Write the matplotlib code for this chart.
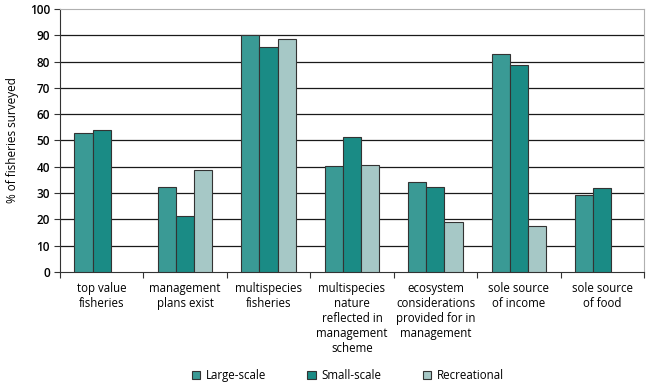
import matplotlib.pyplot as plt
import numpy as np

plt.rcParams['font.family'] = ['Open Sans', 'DejaVu Sans']

categories = ['top value\nfisheries', 'management\nplans exist', 'multispecies\nfisheries',
              'multispecies\nnature\nreflected in\nmanagement\nscheme',
              'ecosystem\nconsiderations\nprovided for in\nmanagement',
              'sole source\nof income', 'sole source\nof food']
series_names = ['Large-scale', 'Small-scale', 'Recreational']
large_scale = [52.7, 32.2, 90, 40.4, 34.1, 82.8, 29.3]
small_scale = [54, 21.3, 85.6, 51.4, 32.2, 78.6, 31.8]
recreational = [np.nan, 38.7, 88.6, 40.8, 19.1, 17.6, np.nan]
colors = ['#3a9a95', '#1a8b85', '#a6c8c6']

fig = plt.figure(figsize=(6.5, 3.87), dpi=100)
ax = fig.add_axes([0.092, 0.297, 0.899, 0.68])

x = np.arange(len(categories))
w = 0.216
for i, (vals, c, name) in enumerate(zip([large_scale, small_scale, recreational], colors, series_names)):
    ax.bar(x + (i - 1) * w, vals, w, color=c, edgecolor='#333333', linewidth=0.8, label=name, zorder=3)

ax.set_xlim(-0.5, len(categories) - 0.5)
ax.set_ylim(0, 100)
ax.set_yticks(range(0, 101, 10))
ax.tick_params(axis='y', labelsize=8.5, length=4, color='#333333', pad=3)
for lbl in ax.get_yticklabels():
    lbl.set_fontweight('semibold')
ax.set_xticks(np.arange(len(categories) + 1) - 0.5, minor=False)
ax.set_xticklabels([])
ax.tick_params(axis='x', length=4, color='#333333')
ax.set_xticks(x, minor=True)
ax.set_xticklabels(categories, minor=True, fontsize=8.3, linespacing=1.2)
ax.tick_params(axis='x', which='minor', length=0, pad=7)

for yv in range(10, 100, 10):
    ax.axhline(yv, color='#1a1a1a', linewidth=0.9, zorder=1)

for s in ['top', 'right']:
    ax.spines[s].set_color('#b0b0b0')
ax.spines['left'].set_color('#333333')
ax.spines['bottom'].set_color('#333333')

ax.set_ylabel('% of fisheries surveyed', fontsize=8.5, labelpad=8)

fig.legend(loc='lower center', bbox_to_anchor=(0.535, -0.015), ncol=3, frameon=False,
           fontsize=8.3, handlelength=0.7, handleheight=0.7, columnspacing=3.6, handletextpad=0.5)

fig.savefig('out.png', dpi=100)
